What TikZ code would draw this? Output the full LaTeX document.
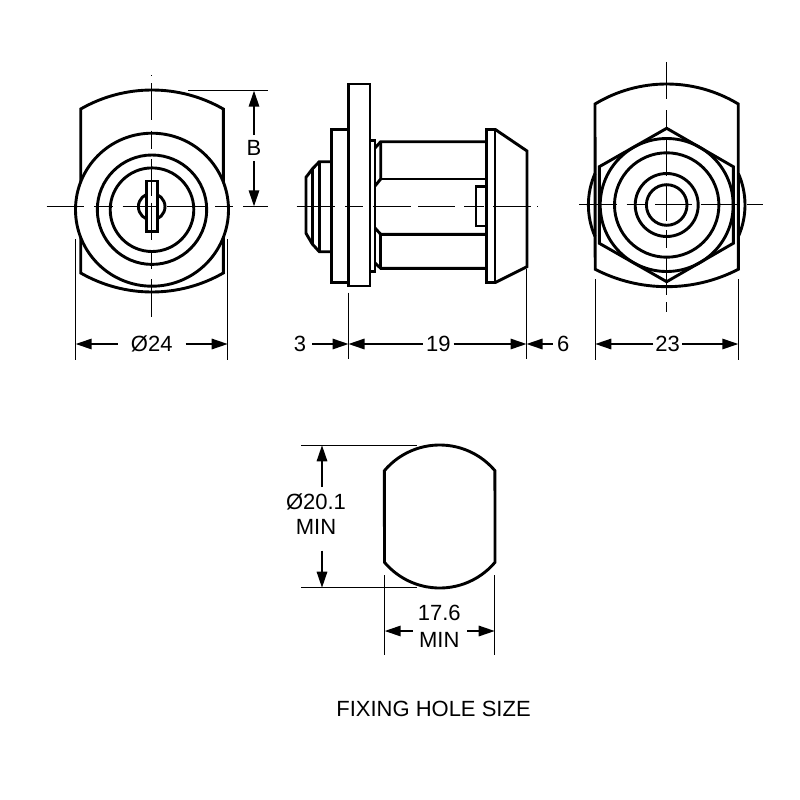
\documentclass[tikz,border=0pt]{standalone}
\usepackage{fontspec}
\setmainfont{Liberation Sans}
\usetikzlibrary{arrows.meta}
\tikzset{
  thick line/.style={line width=2.9pt,line join=miter,black},
  white body/.style={thick line,fill=white},
  centre/.style={line width=1.5pt,black},
  ext/.style={line width=1.5pt,black},
  dim/.style={line width=1.5pt,black,-{Triangle[length=16pt,width=10.5pt]}},
  lab/.style={font=\fontsize{22pt}{24pt}\selectfont,text=black,inner ysep=0pt,text height=15.6pt,text depth=0pt,inner xsep=#1},
  lab/.default=3pt
}
\begin{document}
\begin{tikzpicture}[x=1pt,y=-1pt]
\useasboundingbox (0,0) rectangle (800,800);
\fill[white] (0,0) rectangle (800,800);

% ---------- front view ----------
\draw[thick line] (80.7,109) arc[start angle=119.84,end angle=60.16,radius=143.3pt]
  -- (223.3,273) arc[start angle=299.84,end angle=240.16,radius=143.3pt] -- cycle;
\draw[white body] (152,209.7) circle[radius=76.5pt];
\draw[thick line] (152,209.7) circle[radius=54.7pt];
\draw[thick line] (152,209.7) circle[radius=41.8pt];
\draw[thick line] (151.7,206.7) circle[radius=13.3pt];
\draw[thick line,fill=white] (146.7,181) rectangle (157.3,231.7);
\foreach \a/\b in {75/76.3,83.3/120,130.7/149,159.3/196,202.7/240,250/269.3,279.3/316.7}
  \draw[centre] (151.7,\a) -- (151.7,\b);
\foreach \a/\b in {46.7/84,94/112.7,122.7/159.3,166.7/205.7,215/233.3,243.3/267.5}
  \draw[centre] (\a,206.3) -- (\b,206.3);

% front dimensions
\draw[ext] (75.7,239.3) -- (75.7,360);
\draw[ext] (227.7,239.3) -- (227.7,360);
\node[lab=13pt] (dia24) at (151.7,344) {Ø24};
\coordinate (dia24l) at (75.7,344);
\coordinate (dia24r) at (227.7,344);
\draw[dim] (dia24) -- (dia24l);
\draw[dim] (dia24) -- (dia24r);
\draw[ext] (188,90.7) -- (267.7,90.7);
\node[lab=3pt,inner ysep=5pt] (dimB) at (254,148) {B};
\coordinate (dimBt) at (254,90.7);
\coordinate (dimBb) at (254,206.3);
\draw[dim] (dimB) -- (dimBt);
\draw[dim] (dimB) -- (dimBb);

% ---------- side view ----------
\draw[thick line] (348.3,84) rectangle (370,286);
\draw[thick line] (348.3,129.3) -- (331.7,129.3) -- (331.7,282.3) -- (348.3,282.3);
\draw[thick line] (331.7,161.7) -- (319.3,161.7) -- (312.3,169) -- (306,177.3) -- (306,233.3) -- (312.3,244) -- (319.3,251.7) -- (331.7,251.7);
\draw[thick line] (319.3,161.7) -- (319.3,251.7);
\draw[thick line] (312.3,169) -- (312.3,244);
\draw[thick line] (370,140.7) -- (375,140.7) -- (375,271.7) -- (370,271.7);
\draw[thick line] (375,148) -- (380.7,141.7) -- (486.7,141.7);
\draw[thick line] (380.7,141.7) -- (380.7,179) -- (375,186);
\draw[thick line] (380.7,179) -- (486.7,179);
\draw[thick line] (375,228) -- (380.7,234.3) -- (486.7,234.3);
\draw[thick line] (380.7,234.3) -- (380.7,268.3);
\draw[thick line] (375,263) -- (380.7,268.3) -- (486.7,268.3);
\draw[thick line] (476,186.7) rectangle (486.7,226);
\draw[thick line] (486.7,129.3) rectangle (495,282.7);
\draw[thick line] (495,129.3) -- (527,151) -- (527,266.7) -- (495,282.7);
\foreach \a/\b in {296.7/335,345/363.3,373.3/410.7,418/455,464.3/484,493.3/530.7,537/538.3}
  \draw[centre] (\a,206.7) -- (\b,206.7);

% side dimensions
\draw[ext] (348.5,292.7) -- (348.5,359.3);
\draw[ext] (526.5,269) -- (526.5,359.3);
\node[lab=5.7pt] (dim3) at (300,344) {3};
\node[lab=3pt] (dim19) at (438.3,344) {19};
\node[lab=4pt] (dim6) at (563.3,344) {6};
\coordinate (sideL) at (348.5,344);
\coordinate (sideR) at (526.5,344);
\draw[dim] (dim3) -- (sideL);
\draw[dim] (dim19) -- (sideL);
\draw[dim] (dim19) -- (sideR);
\draw[dim] (dim6) -- (sideR);

% ---------- rear view ----------
\draw[thick line] (595,104) arc[start angle=121.2,end angle=58.8,radius=138.3pt]
  -- (738.3,269.3) arc[start angle=297.3,end angle=242.7,radius=156pt] -- cycle;
\draw[thick line] (595,173.5) arc[start angle=156.3,end angle=203.7,radius=78.3pt];
\draw[thick line] (738.4,173.5) arc[start angle=23.7,end angle=-23.7,radius=78.3pt];
\draw[thick line] (666.7,128.3) -- (733.3,166.7) -- (733.3,243.3) -- (666.7,281.7) -- (599.3,243.3) -- (599.3,166.7) -- cycle;
\foreach \r in {66.5,52.2,31.5,20.3}
  \draw[thick line] (666.7,205) circle[radius=\r pt];
\foreach \a/\b in {62/99,110/128.3,138.3/175.7,185.7/221,230/247.7,257.7/295,302.3/311.6}
  \draw[centre] (666.7,\a) -- (666.7,\b);
\foreach \a/\b in {579.3/616.7,626.7/645,655/691.7,700.7/736.7,746.7/763.3}
  \draw[centre] (\a,204.7) -- (\b,204.7);

% rear dimensions
\draw[ext] (595.3,279.3) -- (595.3,360);
\draw[ext] (738.3,279.3) -- (738.3,360);
\node[lab=2pt] (dim23) at (667.7,344) {23};
\coordinate (rearL) at (595.3,344);
\coordinate (rearR) at (738.3,344);
\draw[dim] (dim23) -- (rearL);
\draw[dim] (dim23) -- (rearR);

% ---------- fixing hole ----------
\draw[thick line] (384.4,470.7) arc[start angle=139.9,end angle=40.1,radius=72.25pt]
  -- (495,562.3) arc[start angle=319.9,end angle=220.1,radius=72.25pt] -- cycle;
\draw[ext] (301,445.3) -- (417.3,445.3);
\draw[ext] (301,587.7) -- (417.3,587.7);
\node[lab=2pt] (hole201) at (316,501.7) {Ø20.1};
\node[lab=2pt] (holemin) at (316,526.7) {MIN};
\coordinate (holeT) at (322,445.3);
\coordinate (holeB) at (322,587.7);
\coordinate (holeTs) at (322,487);
\coordinate (holeBs) at (322,550.7);
\draw[dim] (holeTs) -- (holeT);
\draw[dim] (holeBs) -- (holeB);
\draw[ext] (384.7,575) -- (384.7,655);
\draw[ext] (494.7,575) -- (494.7,655);
\node[lab] (hole176) at (439.3,612.7) {17.6};
\node[lab] (holemin2) at (439.3,640) {MIN};
\coordinate (wL) at (384.7,631);
\coordinate (wR) at (494.7,631);
\coordinate (wLs) at (412.7,631);
\coordinate (wRs) at (467.3,631);
\draw[dim] (wLs) -- (wL);
\draw[dim] (wRs) -- (wR);
\node[lab] (title) at (433.5,709) {FIXING HOLE SIZE};
\end{tikzpicture}
\end{document}
